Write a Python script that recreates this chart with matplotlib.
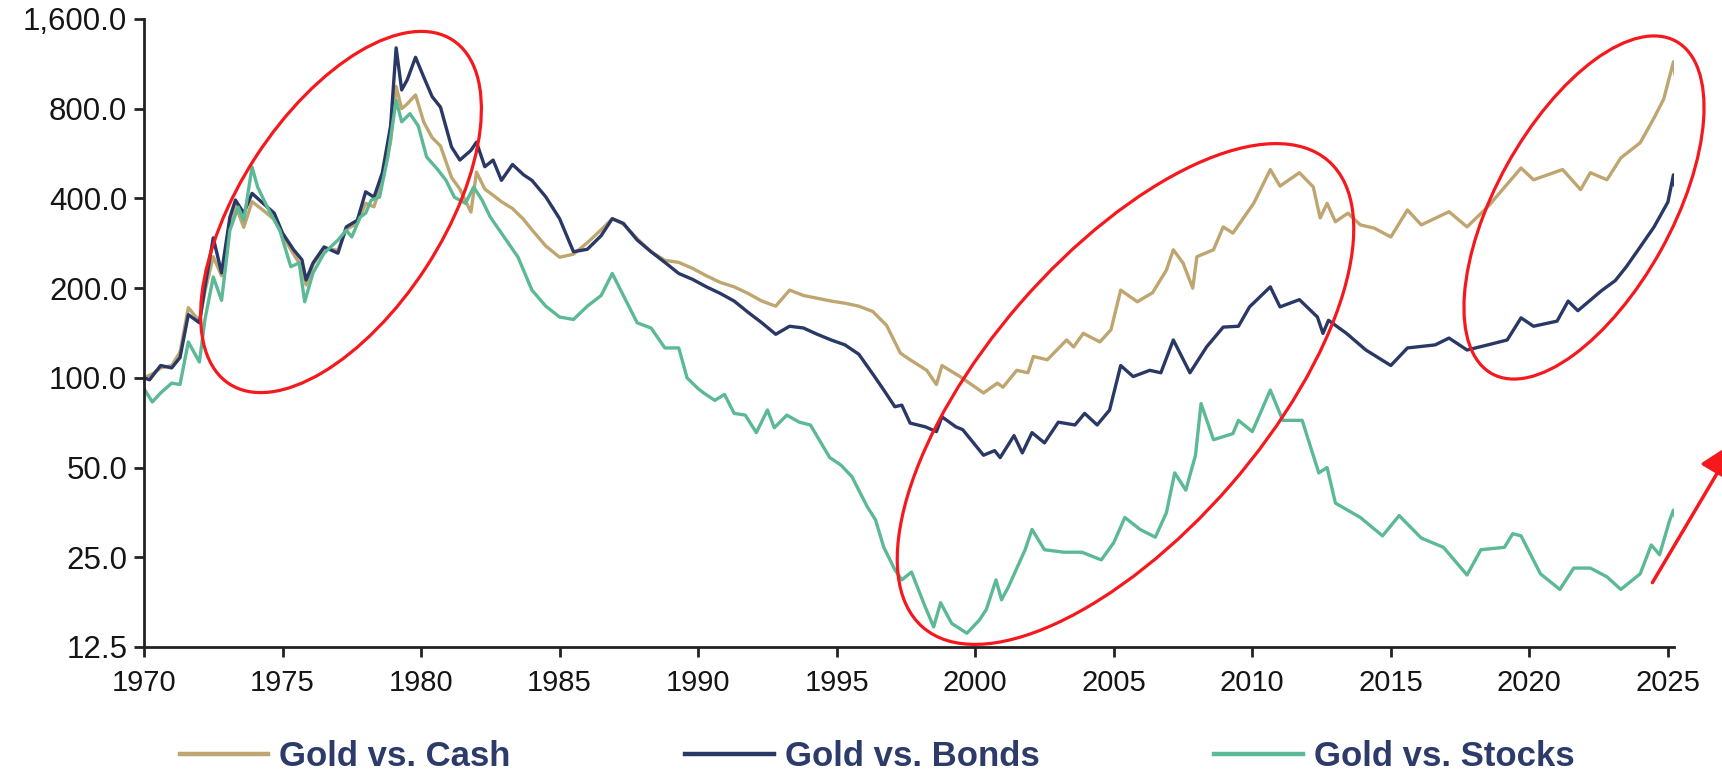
import matplotlib
matplotlib.use("Agg")
import matplotlib.pyplot as plt
from matplotlib.patches import Ellipse, FancyArrowPatch
from matplotlib.transforms import IdentityTransform
from matplotlib.ticker import FuncFormatter, FixedLocator, NullLocator
from matplotlib.lines import Line2D

plt.rcParams['font.family'] = ['Liberation Sans', 'DejaVu Sans']

# ---------------- data ----------------
series_labels = ["Gold vs. Cash", "Gold vs. Bonds", "Gold vs. Stocks"]

cash_years = [1970.0, 1970.3, 1970.6, 1971.0, 1971.3, 1971.6, 1972.0, 1972.2, 1972.5, 1972.8,
              1973.1, 1973.3, 1973.6, 1973.9, 1974.3, 1974.7, 1975.0, 1975.4, 1975.7, 1975.85,
              1976.1, 1976.5, 1977.0, 1977.3, 1977.7, 1978.0, 1978.3, 1978.6, 1978.9, 1979.1,
              1979.3, 1979.5, 1979.8, 1980.1, 1980.4, 1980.7, 1981.1, 1981.4, 1981.8, 1982.0,
              1982.3, 1982.6, 1982.9, 1983.3, 1983.7, 1984.0, 1984.5, 1985.0, 1985.5, 1986.0,
              1986.5, 1986.9, 1987.3, 1987.8, 1988.3, 1988.8, 1989.3, 1989.8, 1990.3, 1990.8,
              1991.3, 1991.8, 1992.3, 1992.8, 1993.3, 1993.8, 1994.3, 1994.8, 1995.3, 1995.8,
              1996.3, 1996.8, 1997.3, 1997.65, 1998.25, 1998.6, 1998.8, 1999.45, 2000.3, 2000.8,
              2001.0, 2001.5, 2001.9, 2002.1, 2002.6, 2003.3, 2003.55, 2003.9, 2004.5, 2004.9,
              2005.25, 2005.85, 2006.4, 2006.9, 2007.15, 2007.5, 2007.85, 2008.0, 2008.6, 2008.95,
              2009.3, 2010.05, 2010.65, 2011.0, 2011.7, 2012.2, 2012.45, 2012.7, 2013.0, 2013.45,
              2013.9, 2014.4, 2015.0, 2015.6, 2016.1, 2017.1, 2017.75, 2018.5, 2019.7, 2020.15,
              2021.2, 2021.85, 2022.2, 2022.8, 2023.3, 2024.0, 2024.5, 2024.85, 2025.2, 2025.25]
cash_values = [100, 103, 108, 110, 122, 172, 155, 195, 255, 220,
               320, 380, 320, 390, 365, 340, 300, 260, 235, 205,
               240, 272, 268, 315, 330, 385, 375, 460, 620, 950,
               800, 830, 890, 720, 640, 600, 470, 430, 360, 490,
               430, 410, 390, 370, 340, 314, 277, 254, 260, 284,
               314, 342, 328, 293, 265, 248, 244, 233, 220, 209,
               202, 192, 181, 174, 197, 189, 185, 181, 178, 174,
               167, 150, 121, 115, 106, 95, 110, 101, 89, 96,
               93, 106, 104, 118, 115, 134, 127, 141, 132, 145,
               197, 180, 193, 230, 269, 243, 200, 255, 269, 321,
               306, 385, 500, 440, 488, 437, 344, 385, 334, 357,
               326, 318, 297, 366, 326, 361, 321, 375, 506, 462,
               500, 428, 488, 462, 547, 615, 745, 863, 1150, 1050]

bonds_years = [1970.0, 1970.2, 1970.6, 1971.0, 1971.3, 1971.6, 1972.0, 1972.2, 1972.5, 1972.8,
               1973.1, 1973.3, 1973.6, 1973.9, 1974.3, 1974.7, 1975.0, 1975.4, 1975.7, 1975.85,
               1976.1, 1976.5, 1977.0, 1977.3, 1977.7, 1978.0, 1978.3, 1978.6, 1978.9, 1979.1,
               1979.3, 1979.5, 1979.8, 1980.1, 1980.4, 1980.7, 1981.1, 1981.4, 1981.8, 1982.0,
               1982.3, 1982.6, 1982.9, 1983.3, 1983.7, 1984.0, 1984.5, 1985.0, 1985.5, 1986.0,
               1986.5, 1986.9, 1987.3, 1987.8, 1988.3, 1988.8, 1989.3, 1989.8, 1990.3, 1990.8,
               1991.3, 1991.8, 1992.3, 1992.8, 1993.3, 1993.8, 1994.3, 1994.8, 1995.3, 1995.8,
               1996.4, 1996.7, 1997.1, 1997.35, 1997.65, 1998.2, 1998.6, 1998.8, 1999.3, 1999.55,
               2000.3, 2000.7, 2000.9, 2001.4, 2001.7, 2002.05, 2002.5, 2003.0, 2003.6, 2003.95,
               2004.4, 2004.85, 2005.25, 2005.7, 2006.3, 2006.7, 2007.15, 2007.75, 2008.35, 2008.95,
               2009.5, 2009.9, 2010.65, 2011.0, 2011.7, 2012.35, 2012.55, 2012.75, 2013.4, 2014.1,
               2015.0, 2015.6, 2016.6, 2017.1, 2017.75, 2018.5, 2019.2, 2019.7, 2020.15, 2021.0,
               2021.4, 2021.75, 2022.6, 2023.1, 2023.5, 2024.0, 2024.5, 2025.0, 2025.2, 2025.25]
bonds_values = [100, 98.5, 110, 108, 117, 163, 153, 202, 295, 225,
                346, 395, 357, 416, 385, 357, 306, 269, 249, 213,
                243, 275, 262, 321, 338, 421, 404, 487, 700, 1280,
                925, 1000, 1190, 1020, 878, 810, 595, 538, 580, 618,
                511, 538, 460, 520, 480, 460, 405, 342, 265, 270,
                300, 342, 330, 290, 265, 244, 224, 214, 202, 192,
                181, 166, 153, 140, 149, 147, 140, 134, 129, 120,
                100, 91, 80, 81, 70.5, 68.5, 66, 74, 68.5, 67,
                55, 57, 54, 64, 56, 65.5, 60.5, 71, 69.5, 76,
                69.5, 78, 110, 101, 106, 104, 134, 104, 127, 148,
                149, 173, 202, 173, 183, 160, 141, 156, 141, 124,
                110, 126, 129, 136, 124, 129, 134, 159, 149, 155,
                181, 168, 196, 212, 236, 275, 321, 389, 480, 443]

stocks_years = [1970.0, 1970.3, 1970.6, 1971.0, 1971.3, 1971.6, 1972.0, 1972.2, 1972.5, 1972.8,
                1973.1, 1973.4, 1973.6, 1973.9, 1974.1, 1974.5, 1974.9, 1975.3, 1975.6, 1975.8,
                1976.1, 1976.5, 1977.0, 1977.3, 1977.5, 1977.8, 1978.0, 1978.2, 1978.5, 1978.8,
                1979.1, 1979.3, 1979.6, 1979.9, 1980.2, 1980.6, 1980.9, 1981.2, 1981.6, 1981.9,
                1982.2, 1982.5, 1982.9, 1983.5, 1984.0, 1984.5, 1985.0, 1985.5, 1986.0, 1986.5,
                1986.9, 1987.3, 1987.8, 1988.3, 1988.8, 1989.3, 1989.6, 1990.0, 1990.2, 1990.6,
                1990.95, 1991.3, 1991.7, 1992.1, 1992.5, 1992.75, 1993.2, 1993.65, 1994.05, 1994.75,
                1995.15, 1995.55, 1996.1, 1996.4, 1996.7, 1997.1, 1997.35, 1997.7, 1998.2, 1998.5,
                1998.75, 1999.15, 1999.7, 2000.15, 2000.4, 2000.75, 2000.95, 2001.2, 2001.8, 2002.05,
                2002.5, 2003.2, 2003.85, 2004.55, 2005.0, 2005.4, 2005.95, 2006.5, 2006.9, 2007.2,
                2007.6, 2007.95, 2008.15, 2008.6, 2009.3, 2009.5, 2010.0, 2010.65, 2011.1, 2011.8,
                2012.4, 2012.7, 2013.0, 2013.9, 2014.7, 2015.3, 2016.1, 2016.9, 2017.75, 2018.25,
                2019.1, 2019.4, 2019.7, 2020.4, 2021.1, 2021.6, 2022.2, 2022.8, 2023.3, 2024.0,
                2024.4, 2024.7, 2025.05, 2025.2, 2025.25]
stocks_values = [92, 83, 89, 96, 95, 132, 113, 157, 218, 182,
                 313, 374, 338, 510, 437, 366, 313, 236, 243, 180,
                 225, 262, 290, 313, 297, 346, 357, 395, 404, 551,
                 855, 723, 770, 700, 551, 500, 460, 404, 385, 437,
                 395, 346, 306, 254, 197, 174, 160, 157, 174, 189,
                 224, 189, 153, 147, 126, 126, 100, 92, 89, 84,
                 88, 76, 75, 65.5, 78, 68, 75, 71, 69.5, 54,
                 51, 46.6, 37, 33.4, 27, 22.7, 21, 22.3, 17, 14.6,
                 17.6, 15, 13.9, 15.4, 16.7, 21, 18, 19.9, 26.5, 31,
                 26.5, 26, 26, 24.5, 28, 34, 31, 29.2, 35.3, 48,
                 42, 55, 82, 62, 65, 72, 66, 91, 72, 72,
                 48, 50, 38, 34, 29.5, 34.5, 29, 27, 21.8, 26.5,
                 27, 30, 29.5, 22, 19.5, 23, 23, 21.5, 19.5, 22,
                 27.5, 25.5, 33, 36, 34.5]

x_ticks = [1970, 1975, 1980, 1985, 1990, 1995, 2000, 2005, 2010, 2015, 2020, 2025]
y_ticks = [12.5, 25, 50, 100, 200, 400, 800, 1600]

# ---------------- styling ----------------
W, H = 1722, 774
c_cash = "#BFA56F"
c_bonds = "#2A3866"
c_stocks = "#5BB995"
legend_text_color = "#2C3B69"
red = "#F5191E"

fig = plt.figure(figsize=(W / 100, H / 100), dpi=100)
ax = fig.add_axes([144 / W, 127 / H, 1530 / W, 628 / H])
ax.set_yscale("log")

lw = 2.4
ax.plot(cash_years, cash_values, color=c_cash, lw=lw, solid_joinstyle="round")
ax.plot(bonds_years, bonds_values, color=c_bonds, lw=lw, solid_joinstyle="round")
ax.plot(stocks_years, stocks_values, color=c_stocks, lw=lw, solid_joinstyle="round")

ax.set_xlim(1970, 2025.22)
ax.set_ylim(12.5, 1600)
ax.yaxis.set_major_locator(FixedLocator(y_ticks))
ax.yaxis.set_minor_locator(NullLocator())
ax.yaxis.set_major_formatter(FuncFormatter(lambda v, p: f"{v:,.1f}"))
ax.set_xticks(x_ticks)
ax.set_xticklabels([str(t) for t in x_ticks])

for s in ["top", "right"]:
    ax.spines[s].set_visible(False)
for s in ["left", "bottom"]:
    ax.spines[s].set_linewidth(2.0)
    ax.spines[s].set_color("#222222")

ax.tick_params(axis="both", direction="out", length=7, width=2.0, color="#222222",
               labelcolor="#151515")
ax.tick_params(axis="x", labelsize=21, pad=9)
ax.tick_params(axis="y", labelsize=22.5, pad=5)

# legend
handles = [Line2D([], [], color=c, lw=3.2) for c in (c_cash, c_bonds, c_stocks)]
leg = fig.legend(handles, series_labels, loc="center", bbox_to_anchor=(877 / W, 17 / H),
                 ncol=3, frameon=False, prop={"weight": "bold", "size": 25},
                 handlelength=2.54, handletextpad=0.32, columnspacing=5.04,
                 borderpad=0.0, borderaxespad=0.0)
for t in leg.get_texts():
    t.set_color(legend_text_color)

# red ellipses and arrow (pixel coordinates, origin bottom-left)
ident = IdentityTransform()
ellipses = [((341, H - 212), 410, 203, 57),
            ((1125.5, H - 394), 618, 278, 49),
            ((1584, H - 207.5), 380, 176, 61)]
for (cxy, w, h, ang) in ellipses:
    e = Ellipse(cxy, w, h, angle=ang, transform=ident, fill=False,
                edgecolor=red, lw=2.3, clip_on=False)
    fig.add_artist(e)

arrow = FancyArrowPatch((1651, H - 585), (1738, H - 438), transform=ident,
                        arrowstyle="-|>,head_length=1.2,head_width=0.6",
                        mutation_scale=20, color=red, lw=2.5, clip_on=False)
fig.add_artist(arrow)

fig.savefig("out.png", dpi=100)
